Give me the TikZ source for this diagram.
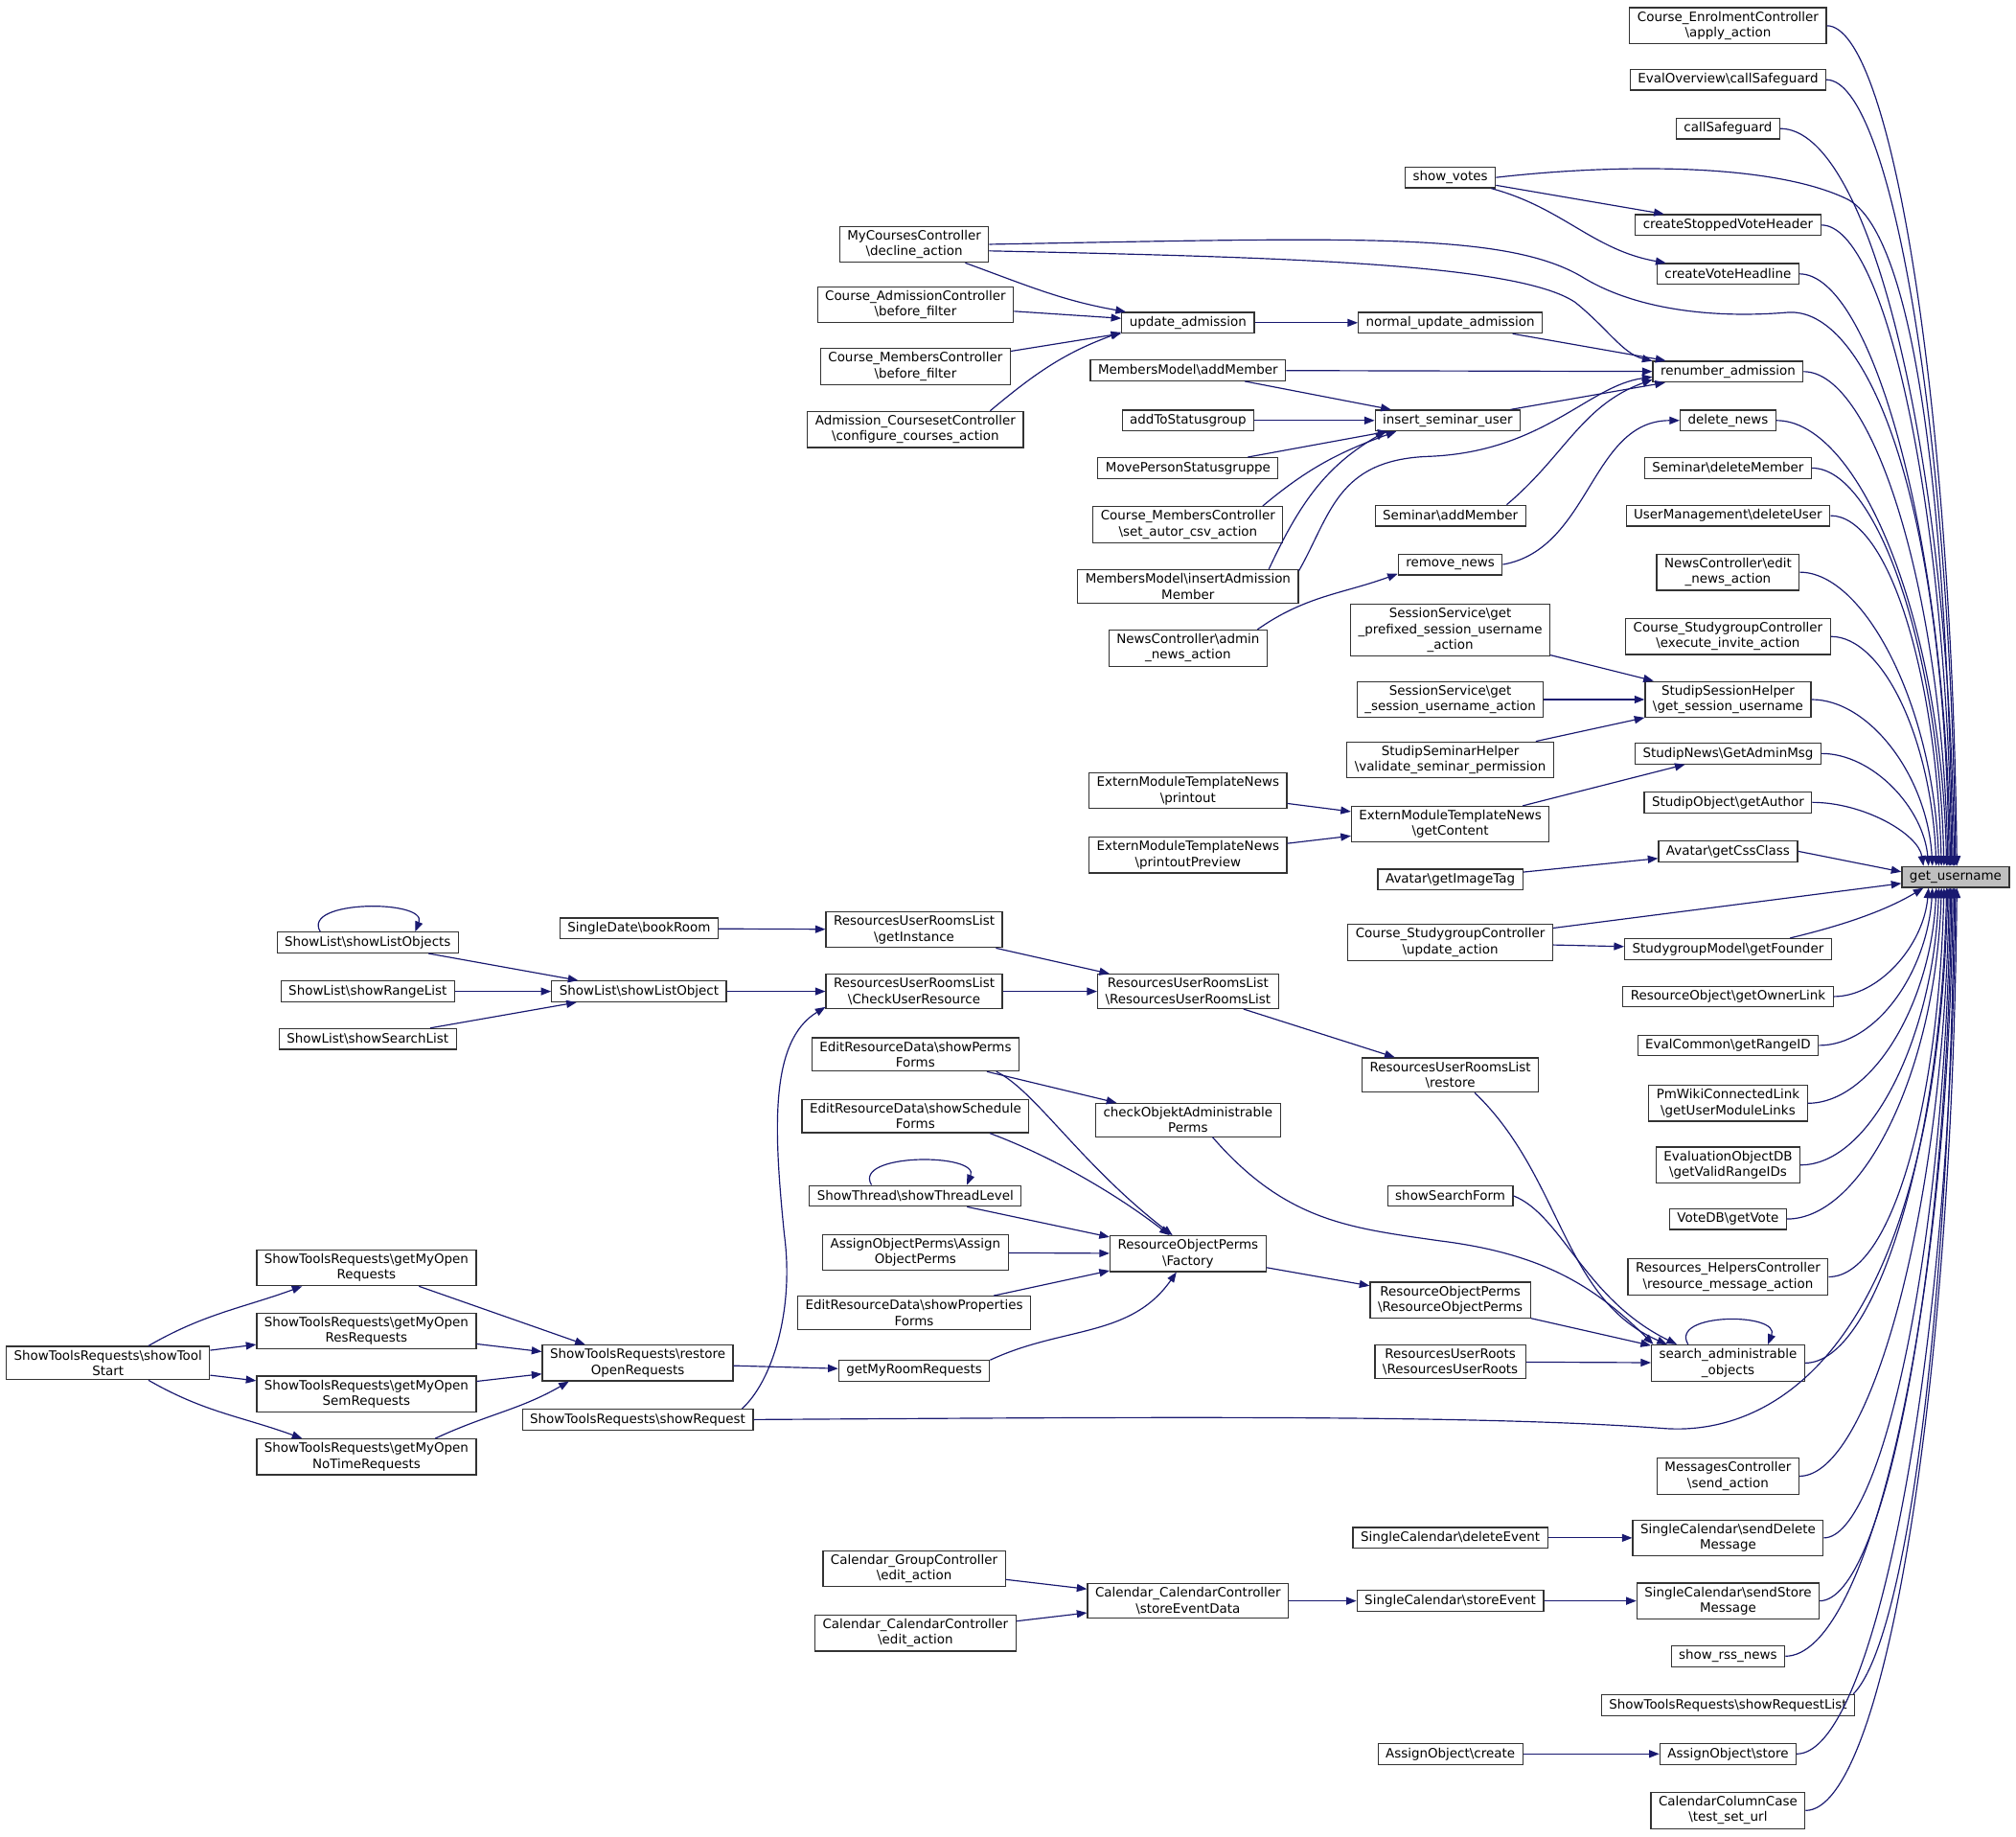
\documentclass[tikz,border=0pt]{standalone}
\usepackage{fontspec}
\setmainfont{DejaVu Sans}
\usetikzlibrary{arrows.meta,calc}
\definecolor{edgeblue}{RGB}{25,25,112}
\newcommand{\bsl}{\textbackslash}
\tikzset{
  fn/.style={draw=black!80, line width=0.5pt, fill=white, align=center, inner xsep=3.4pt, inner ysep=1.7pt, minimum height=9.2pt, font=\fontsize{5.7}{6.9}\selectfont},
  hl/.style={fn, fill=black!25},
  call/.style={draw=edgeblue, line width=0.5pt, -{Triangle[length=4.5pt,width=3.4pt]}}
}
\begin{document}
\begin{tikzpicture}[x=0.02cm, y=-0.02cm]
\useasboundingbox (0,0) rectangle (1568,1428);

% right column and upper middle
\node[fn] (apply) at (1344,20) {Course\_EnrolmentController\\\bsl apply\_action};
\node[fn] (evalsafe) at (1344,62) {EvalOverview\bsl callSafeguard};
\node[fn] (callsafe) at (1344,100) {callSafeguard};
\node[fn] (showvotes) at (1128,138) {show\_votes};
\node[fn] (stopped) at (1344,175) {createStoppedVoteHeader};
\node[fn] (headline) at (1344,213) {createVoteHeadline};
\node[fn] (decline) at (711,190) {MyCoursesController\\\bsl decline\_action};
\node[fn] (admbf) at (712,237) {Course\_AdmissionController\\\bsl before\_filter};
\node[fn] (updadm) at (924,251) {update\_admission};
\node[fn] (normupd) at (1128,251) {normal\_update\_admission};
\node[fn] (membf) at (712,285) {Course\_MembersController\\\bsl before\_filter};
\node[fn] (configure) at (712,334) {Admission\_CoursesetController\\\bsl configure\_courses\_action};
\node[fn] (addmember) at (924,288) {MembersModel\bsl addMember};
\node[fn] (renumber) at (1344,289) {renumber\_admission};
\node[fn] (addto) at (924,327) {addToStatusgroup};
\node[fn] (insert) at (1126,327) {insert\_seminar\_user};
\node[fn] (delnews) at (1344,327) {delete\_news};
\node[fn] (movep) at (924,364) {MovePersonStatusgruppe};
\node[fn] (delmember) at (1344,364) {Seminar\bsl deleteMember};
\node[fn] (setautor) at (924,408) {Course\_MembersController\\\bsl set\_autor\_csv\_action};
\node[fn] (semadd) at (1128,401) {Seminar\bsl addMember};
\node[fn] (deluser) at (1344,401) {UserManagement\bsl deleteUser};
\node[fn] (insadm) at (924,456) {MembersModel\bsl insertAdmission\\Member};
\node[fn] (remnews) at (1128,439) {remove\_news};
\node[fn] (editnews) at (1344,445) {NewsController\bsl edit\\\_news\_action};
\node[fn] (adminnews) at (924,504) {NewsController\bsl admin\\\_news\_action};
\node[fn] (prefixed) at (1128,490) {SessionService\bsl get\\\_prefixed\_session\_username\\\_action};
\node[fn] (invite) at (1344,495) {Course\_StudygroupController\\\bsl execute\_invite\_action};
\node[fn] (sessaction) at (1128,544) {SessionService\bsl get\\\_session\_username\_action};
\node[fn] (sesshelper) at (1344,544) {StudipSessionHelper\\\bsl get\_session\_username};
\node[fn] (seminarhelper) at (1128,591) {StudipSeminarHelper\\\bsl validate\_seminar\_permission};
\node[fn] (adminmsg) at (1344,586) {StudipNews\bsl GetAdminMsg};
\node[fn] (printout) at (924,615) {ExternModuleTemplateNews\\\bsl printout};
\node[fn] (getauthor) at (1344,624) {StudipObject\bsl getAuthor};
\node[fn] (getcontent) at (1128,641) {ExternModuleTemplateNews\\\bsl getContent};
\node[fn] (preview) at (924,665) {ExternModuleTemplateNews\\\bsl printoutPreview};
\node[fn] (cssclass) at (1344,662) {Avatar\bsl getCssClass};
\node[fn] (imagetag) at (1128,684) {Avatar\bsl getImageTag};
\node[hl] (G) at (1521,682) {get\_username};

% right column, lower part
\node[fn] (updaction) at (1128,733) {Course\_StudygroupController\\\bsl update\_action};
\node[fn] (founder) at (1344,738) {StudygroupModel\bsl getFounder};
\node[fn] (ownerlink) at (1344,775) {ResourceObject\bsl getOwnerLink};
\node[fn] (rangeid) at (1344,813) {EvalCommon\bsl getRangeID};
\node[fn] (wikilinks) at (1344,858) {PmWikiConnectedLink\\\bsl getUserModuleLinks};
\node[fn] (validrange) at (1344,906) {EvaluationObjectDB\\\bsl getValidRangeIDs};
\node[fn] (getvote) at (1344,948) {VoteDB\bsl getVote};
\node[fn] (resmsg) at (1344,993) {Resources\_HelpersController\\\bsl resource\_message\_action};
\node[fn] (searchadm) at (1344,1060) {search\_administrable\\\_objects};
\node[fn] (restore) at (1128,836) {ResourcesUserRoomsList\\\bsl restore};
\node[fn] (searchform) at (1128,930) {showSearchForm};
\node[fn] (roperms) at (1128,1011) {ResourceObjectPerms\\\bsl ResourceObjectPerms};
\node[fn] (userroots) at (1128,1059) {ResourcesUserRoots\\\bsl ResourcesUserRoots};
\node[fn] (sendaction) at (1344,1148) {MessagesController\\\bsl send\_action};
\node[fn] (senddelete) at (1344,1196) {SingleCalendar\bsl sendDelete\\Message};
\node[fn] (deleteevent) at (1128,1196) {SingleCalendar\bsl deleteEvent};
\node[fn] (sendstore) at (1344,1245) {SingleCalendar\bsl sendStore\\Message};
\node[fn] (storeevent) at (1128,1245) {SingleCalendar\bsl storeEvent};
\node[fn] (storedata) at (924,1245) {Calendar\_CalendarController\\\bsl storeEventData};
\node[fn] (groupedit) at (711,1220) {Calendar\_GroupController\\\bsl edit\_action};
\node[fn] (caledit) at (712,1270) {Calendar\_CalendarController\\\bsl edit\_action};
\node[fn] (rss) at (1344,1288) {show\_rss\_news};
\node[fn] (reqlist) at (1344,1326) {ShowToolsRequests\bsl showRequestList};
\node[fn] (create) at (1128,1364) {AssignObject\bsl create};
\node[fn] (store) at (1344,1364) {AssignObject\bsl store};
\node[fn] (testurl) at (1344,1408) {CalendarColumnCase\\\bsl test\_set\_url};

% left part
\node[fn] (bookroom) at (497,722) {SingleDate\bsl bookRoom};
\node[fn] (getinstance) at (711,723) {ResourcesUserRoomsList\\\bsl getInstance};
\node[fn] (checkuser) at (711,771) {ResourcesUserRoomsList\\\bsl CheckUserResource};
\node[fn] (rurl) at (924,771) {ResourcesUserRoomsList\\\bsl ResourcesUserRoomsList};
\node[fn] (listobjects) at (286,733) {ShowList\bsl showListObjects};
\node[fn] (rangelist) at (286,771) {ShowList\bsl showRangeList};
\node[fn] (searchlist) at (286,808) {ShowList\bsl showSearchList};
\node[fn] (listobject) at (497,771) {ShowList\bsl showListObject};
\node[fn] (permsforms) at (712,820) {EditResourceData\bsl showPerms\\Forms};
\node[fn] (checkobj) at (924,871) {checkObjektAdministrable\\Perms};
\node[fn] (scheduleforms) at (712,868) {EditResourceData\bsl showSchedule\\Forms};
\node[fn] (threadlevel) at (712,930) {ShowThread\bsl showThreadLevel};
\node[fn] (assignperms) at (712,974) {AssignObjectPerms\bsl Assign\\ObjectPerms};
\node[fn] (factory) at (924,975) {ResourceObjectPerms\\\bsl Factory};
\node[fn] (propforms) at (711,1021) {EditResourceData\bsl showProperties\\Forms};
\node[fn] (roomrequests) at (711,1066) {getMyRoomRequests};
\node[fn] (openreq) at (285,986) {ShowToolsRequests\bsl getMyOpen\\Requests};
\node[fn] (openres) at (285,1035) {ShowToolsRequests\bsl getMyOpen\\ResRequests};
\node[fn] (opensem) at (285,1084) {ShowToolsRequests\bsl getMyOpen\\SemRequests};
\node[fn] (opennotime) at (285,1133) {ShowToolsRequests\bsl getMyOpen\\NoTimeRequests};
\node[fn] (toolstart) at (84,1060) {ShowToolsRequests\bsl showTool\\Start};
\node[fn] (restoreopen) at (496,1060) {ShowToolsRequests\bsl restore\\OpenRequests};
\node[fn] (showrequest) at (496,1104) {ShowToolsRequests\bsl showRequest};

% calls into get_username
\foreach \nm/\off/\cx/\cy in {apply/1/50/360, evalsafe/0/50/340, callsafe/-1/70/320, stopped/-3/50/280, headline/-4/55/260, renumber/-6/55/210, delnews/-7/65/190, delmember/-9/50/170, deluser/-11/45/150, editnews/-13/50/125, invite/-15/40/100, sesshelper/-18/45/70, adminmsg/-21/40/45, getauthor/-25/40/25}
  \draw[call] (\nm.east) .. controls +(\cx,0) and +(-4,-\cy) .. ($(G.north)+(\off,0)$);
\foreach \nm/\off/\cx/\cy in {ownerlink/-21/35/45, rangeid/-18/45/65, wikilinks/-15/50/90, validrange/-13/55/115, getvote/-11/60/140, resmsg/-9/50/165, searchadm/-7/55/200, sendaction/-5/55/250, senddelete/-4/45/280, sendstore/-3/50/300, rss/-2/65/330, store/0/60/370, testurl/1/60/400}
  \draw[call] (\nm.east) .. controls +(\cx,0) and +(-4,\cy) .. ($(G.south)+(\off,0)$);
\draw[call] (showvotes.east) .. controls (1260,127) and (1380,127) .. (1437,155) .. controls (1475,175) and (1512,300) .. ($(G.north)+(-2,0)$);
\draw[call] (decline.east) .. controls (1050,185) and (1170,180) .. (1230,215) .. controls (1270,240) and (1330,248) .. (1390,243) .. controls (1450,238) and (1512,380) .. ($(G.north)+(-5,0)$);
\draw[call] (cssclass.east) -- ($(G.west)+(0,-4)$);
\draw[call] (updaction.8) -- ($(G.west)+(0,5)$);
\draw[call] (founder.10) .. controls +(50,-12) and +(-25,15) .. ($(G.south)+(-25,0)$);
\draw[call] (reqlist.5) .. controls +(40,-40) and +(-4,340) .. ($(G.south)+(-1,0)$);
\draw[call] (showrequest.east) .. controls (900,1102) and (1150,1100) .. (1296,1111) .. controls (1380,1116) and (1505,1050) .. ($(G.south)+(-6,0)$);

% upper block
\draw[call] (showvotes) -- (stopped);
\draw[call] (showvotes.-15) to[out=-15,in=170] (headline.170);
\draw[call] (decline.-20) to[out=-20,in=170] (updadm.170);
\draw[call] (admbf) -- (updadm);
\draw[call] (membf) -- (updadm);
\draw[call] (configure.14) to[out=40,in=200] (updadm.188);
\draw[call] (updadm) -- (normupd);
\draw[call] (normupd) -- (renumber);
\draw[call] (decline.-5) .. controls (1000,200) and (1180,205) .. (1225,235) .. controls (1250,255) and (1262,275) .. (renumber.172);
\draw[call] (addmember) -- (renumber);
\draw[call] (addmember) -- (insert);
\draw[call] (addto) -- (insert);
\draw[call] (movep) -- (insert);
\draw[call] (setautor.14) to[out=40,in=200] (insert.192);
\draw[call] (insadm.12) to[out=65,in=210] (insert.190);
\draw[call] (insadm.8) .. controls (1035,400) and (1040,358) .. (1110,355) .. controls (1200,352) and (1235,300) .. (renumber.184);
\draw[call] (semadd.11) to[out=40,in=200] (renumber.186);
\draw[call] (insert) -- (renumber);
\draw[call] (remnews.east) to[out=10,in=180] (delnews.west);
\draw[call] (adminnews.15) to[out=35,in=200] (remnews.190);
\draw[call] (prefixed) -- (sesshelper);
\draw[call] (sessaction) -- (sesshelper);
\draw[call] (seminarhelper) -- (sesshelper);
\draw[call] (getcontent) -- (adminmsg);
\draw[call] (printout) -- (getcontent);
\draw[call] (preview) -- (getcontent);
\draw[call] (imagetag) -- (cssclass);
\draw[call] (updaction) -- (founder);

% resources block
\draw[call] (bookroom) -- (getinstance);
\draw[call] (getinstance) -- (rurl);
\draw[call] (checkuser) -- (rurl);
\draw[call] (rurl) -- (restore);
\draw[call] (listobject) -- (checkuser);
\draw[call] (listobjects) -- (listobject);
\draw[call] (rangelist) -- (listobject);
\draw[call] (searchlist) -- (listobject);
\draw[call] (listobjects.167) .. controls +(-15,-25) and +(10,-25) .. (listobjects.13);
\draw[call] (threadlevel.166) .. controls +(-15,-25) and +(10,-25) .. (threadlevel.12);
\draw[call] (searchadm.155) .. controls +(-15,-25) and +(10,-25) .. (searchadm.25);
\draw[call] (showrequest.6) .. controls (600,1075) and (618,1020) .. (610,960) .. controls (602,880) and (598,810) .. (checkuser.190);
\draw[call] (restore.-36) .. controls (1215,915) and (1215,1010) .. (searchadm.163);
\draw[call] (checkobj.-35) .. controls (1000,950) and (1050,955) .. (1120,965) .. controls (1200,975) and (1240,1000) .. (searchadm.166);
\draw[call] (searchform.east) .. controls (1215,945) and (1232,1010) .. (searchadm.160);
\draw[call] (roperms) -- (searchadm);
\draw[call] (userroots) -- (searchadm);
\draw[call] (factory) -- (roperms);
\draw[call] (permsforms) -- (checkobj);
\draw[call] (permsforms.-12) .. controls (805,848) and (840,905) .. (factory.130);
\draw[call] (scheduleforms.-13) .. controls (820,900) and (870,930) .. (factory.135);
\draw[call] (threadlevel) -- (factory);
\draw[call] (assignperms) -- (factory);
\draw[call] (propforms) -- (factory);
\draw[call] (roomrequests.8) to[out=25,in=235] (factory.238);
\draw[call] (restoreopen) -- (roomrequests);
\draw[call] (openreq) -- (restoreopen);
\draw[call] (openres) -- (restoreopen);
\draw[call] (opensem) -- (restoreopen);
\draw[call] (opennotime.15) to[out=25,in=210] (restoreopen.195);
\draw[call] (toolstart.23) to[out=30,in=200] (openreq.196);
\draw[call] (toolstart) -- (openres);
\draw[call] (toolstart) -- (opensem);
\draw[call] (toolstart.-23) to[out=-30,in=160] (opennotime.164);

% calendar block
\draw[call] (deleteevent) -- (senddelete);
\draw[call] (storeevent) -- (sendstore);
\draw[call] (storedata) -- (storeevent);
\draw[call] (groupedit) -- (storedata);
\draw[call] (caledit) -- (storedata);
\draw[call] (create) -- (store);
\end{tikzpicture}
\end{document}
